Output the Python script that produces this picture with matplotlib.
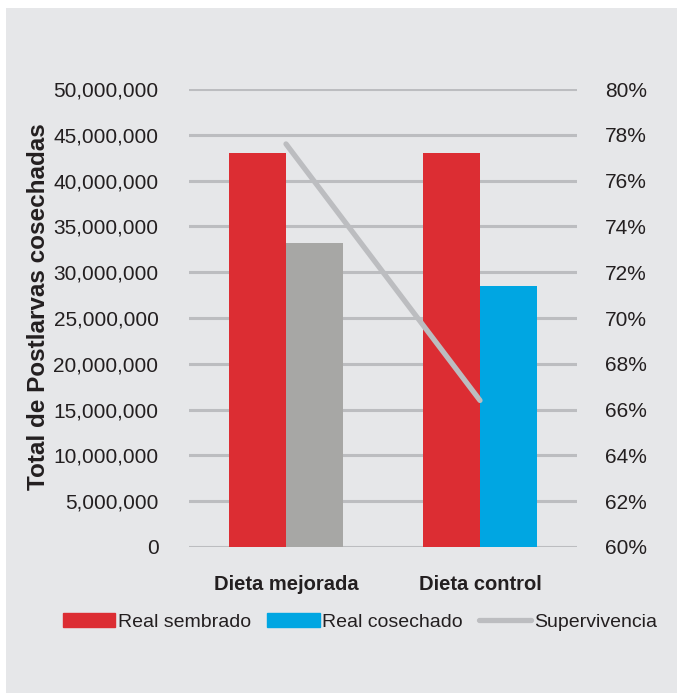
import matplotlib
matplotlib.use("Agg")
import matplotlib.pyplot as plt
from matplotlib.patches import Patch, Rectangle
from matplotlib.lines import Line2D
from matplotlib.ticker import FuncFormatter, MultipleLocator

plt.rcParams['font.family'] = ['Liberation Sans Narrow', 'Liberation Sans', 'DejaVu Sans']

categories = ["Dieta mejorada", "Dieta control"]
sembrado = [43000000, 43000000]
cosechado = [33200000, 28500000]
supervivencia = [0.776, 0.664]

red = "#dc2d33"
blue = "#00a6e2"
gray_bar = "#a7a7a5"
line_gray = "#bcbdc0"
bg = "#e6e7e9"
txt = "#231f20"

fig = plt.figure(figsize=(6.77, 6.93), dpi=100)
fig.patch.set_facecolor("white")
fig.patches.append(Rectangle((6 / 677, 0), 1, 1 - 8 / 693, transform=fig.transFigure,
                             facecolor=bg, edgecolor="none", zorder=-10))

ax = fig.add_axes([189 / 677, 1 - 547 / 693, 388 / 677, 458 / 693])
ax.set_facecolor("none")
for s in ax.spines.values():
    s.set_visible(False)

x = list(range(len(categories)))
w = 0.294
ax.bar([i - w / 2 for i in x], sembrado, width=w, color=red, zorder=2)
ax.bar([i + w / 2 for i in x], cosechado, width=w, color=[gray_bar, blue], zorder=2)

ax.set_xlim(-0.5, 1.5)
ax.set_ylim(0, 50000000)
ax.yaxis.set_major_locator(MultipleLocator(5000000))
ax.yaxis.set_major_formatter(FuncFormatter(lambda v, p: "{:,.0f}".format(v)))
ax.grid(axis="y", color=line_gray, linewidth=2.2, zorder=0)
ax.set_axisbelow(True)
ax.set_xticks(x)
ax.set_xticklabels(categories, fontsize=14.5, fontweight="bold", color=txt)
ax.tick_params(axis="x", length=0, pad=20)
ax.tick_params(axis="y", length=0, pad=22, labelsize=15, labelcolor=txt)

ax2 = ax.twinx()
for s in ax2.spines.values():
    s.set_visible(False)
ax2.plot(x, supervivencia, color=line_gray, linewidth=3.8, solid_capstyle="round", zorder=3)
ax2.set_ylim(0.6, 0.8)
ax2.yaxis.set_major_locator(MultipleLocator(0.02))
ax2.yaxis.set_major_formatter(FuncFormatter(lambda v, p: "{:.0f}%".format(v * 100)))
ax2.tick_params(axis="y", length=0, pad=20, labelsize=15, labelcolor=txt)

fig.text(39 / 677, 1 - 307 / 693, "Total de Postlarvas cosechadas", rotation=90,
         ha="center", va="center", fontsize=17.5, fontweight="bold", color=txt)

handles = [Patch(color=red), Patch(color=blue),
           Line2D([0], [0], color=line_gray, linewidth=3.8, solid_capstyle="round")]
labels = ["Real sembrado", "Real cosechado", "Supervivencia"]
leg = fig.legend(handles, labels, loc="center", bbox_to_anchor=(360 / 677, 1 - 622 / 693),
                 ncol=3, frameon=False, fontsize=14, handlelength=2.7, handletextpad=0.15,
                 columnspacing=0.8, borderaxespad=0)
for t in leg.get_texts():
    t.set_color(txt)

fig.savefig("out.png", dpi=100)
